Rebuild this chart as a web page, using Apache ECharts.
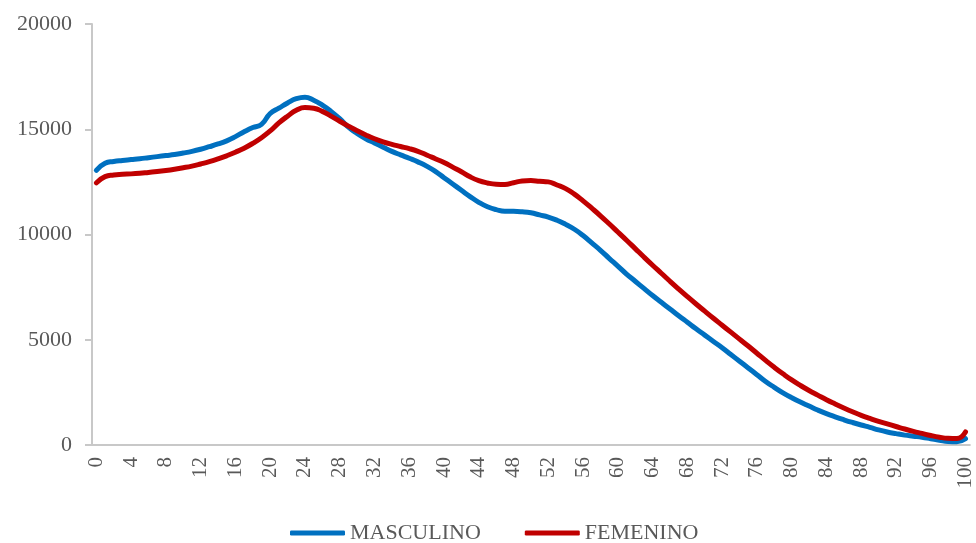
<!DOCTYPE html>
<html>
<head>
<meta charset="utf-8">
<script src="https://cdn.jsdelivr.net/npm/echarts@6/dist/echarts.min.js"></script>
<style>
  html, body { margin: 0; padding: 0; background: #fff; }
  #chart { width: 976px; height: 543px; }
</style>
</head>
<body>
<div id="chart"></div>
<script>
// edades 0..100
const ages = [];
for (let i = 0; i <= 100; i++) ages.push(String(i));

const masculino = [
  13050, 13380, 13470, 13520, 13560, 13600, 13650, 13700, 13750, 13800,
  13870, 13950, 14050, 14170, 14300, 14450, 14650, 14880, 15080, 15230,
  15750, 16000, 16250, 16450, 16520, 16380, 16150, 15850, 15500, 15100,
  14800, 14550, 14350, 14150, 13950, 13780, 13620, 13450, 13250, 13000,
  12700, 12400, 12100, 11800, 11530, 11320, 11180, 11100, 11100, 11080,
  11030, 10930, 10830, 10680, 10480, 10250, 9950, 9600, 9250, 8870,
  8500, 8120, 7780, 7440, 7100, 6780, 6460, 6140, 5830, 5520,
  5220, 4920, 4620, 4300, 3980, 3660, 3340, 3020, 2740, 2480,
  2250, 2040, 1850, 1660, 1490, 1340, 1200, 1070, 950, 840,
  720, 620, 540, 470, 420, 370, 300, 230, 170, 160,
  300
];

const femenino = [
  12450, 12750, 12830, 12860, 12880, 12910, 12950, 12990, 13040, 13100,
  13170, 13250, 13350, 13460, 13590, 13740, 13910, 14100, 14330, 14600,
  14920, 15300, 15620, 15900, 16030, 16000, 15850, 15620, 15380, 15150,
  14930, 14730, 14550, 14400, 14280, 14180, 14080, 13950, 13780, 13600,
  13420, 13200, 12980, 12740, 12560, 12450, 12390, 12380, 12460, 12540,
  12560, 12530, 12500, 12350, 12180, 11920, 11600, 11250, 10890, 10510,
  10120, 9730, 9330, 8930, 8540, 8160, 7780, 7410, 7050, 6700,
  6360, 6020, 5690, 5360, 5030, 4700, 4360, 4020, 3690, 3380,
  3090, 2830, 2590, 2370, 2150, 1950, 1760, 1580, 1410, 1260,
  1120, 1000, 880, 760, 650, 550, 450, 370, 320, 310,
  620
];

const yTicks = [0, 5000, 10000, 15000, 20000];

const serif = "'Liberation Serif', 'Times New Roman', serif";
const axisGray = '#C8C8C8';

const chart = echarts.init(document.getElementById('chart'));
chart.setOption({
  animation: false,
  textStyle: { fontFamily: serif },
  grid: { left: 92, right: 6, top: 24, bottom: 98 },
  legend: {
    top: 521,
    left: 290,
    itemWidth: 55,
    itemHeight: 5,
    itemGap: 44,
    padding: 0,
    icon: 'roundRect',
    textStyle: { fontFamily: serif, fontSize: 22, color: '#595959', lineHeight: 24 },
    data: ['MASCULINO', 'FEMENINO']
  },
  xAxis: {
    type: 'category',
    data: ages,
    boundaryGap: true,
    axisLine: { lineStyle: { color: axisGray, width: 2 } },
    axisTick: { interval: 0, length: 6, lineStyle: { color: axisGray, width: 2 } },
    axisLabel: {
      interval: 3,
      rotate: 90,
      margin: 12,
      fontFamily: serif,
      fontSize: 21,
      color: '#595959'
    },
    splitLine: { show: false }
  },
  yAxis: {
    type: 'value',
    min: yTicks[0],
    max: yTicks[yTicks.length - 1],
    interval: 5000,
    axisLine: { show: true, lineStyle: { color: axisGray, width: 2 } },
    axisTick: { show: true, length: 7, lineStyle: { color: axisGray, width: 2 } },
    axisLabel: {
      margin: 20,
      fontFamily: serif,
      fontSize: 22,
      color: '#595959',
      formatter: v => String(v)
    },
    splitLine: { show: false }
  },
  series: [
    {
      name: 'MASCULINO',
      type: 'line',
      data: masculino,
      smooth: true,
      showSymbol: false,
      color: '#0070C0',
      lineStyle: { width: 5, cap: 'round', join: 'round' }
    },
    {
      name: 'FEMENINO',
      type: 'line',
      data: femenino,
      smooth: true,
      showSymbol: false,
      color: '#C00000',
      lineStyle: { width: 5, cap: 'round', join: 'round' }
    }
  ]
});
</script>
</body>
</html>
